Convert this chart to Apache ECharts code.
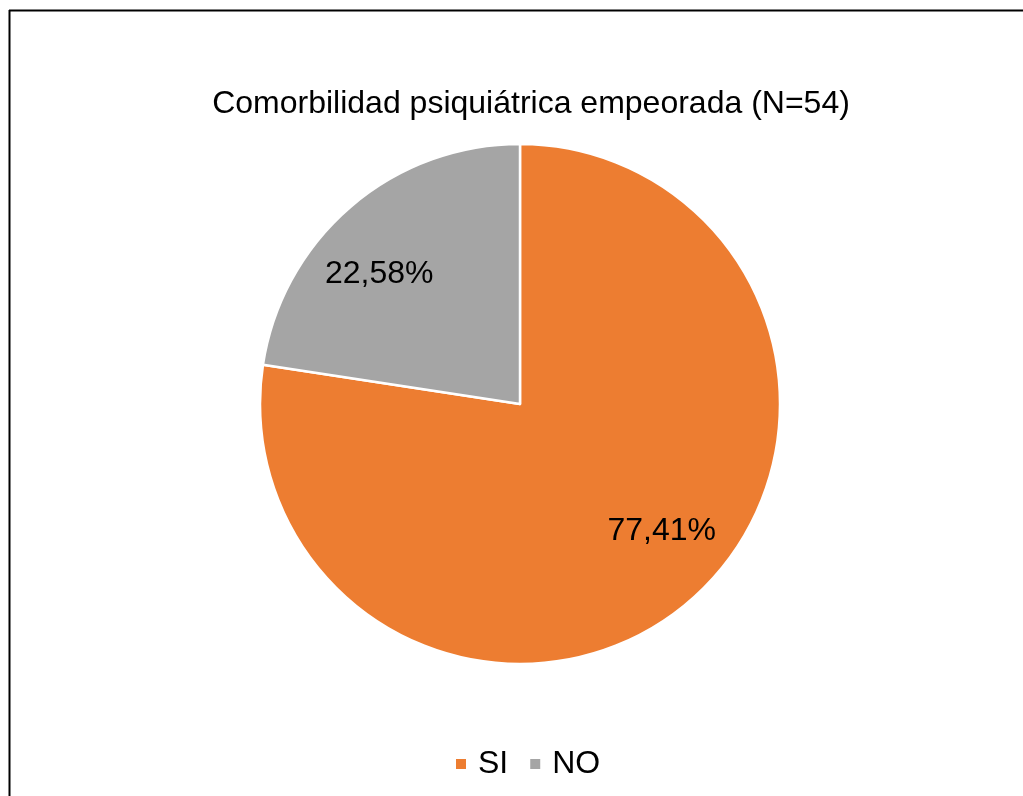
<!DOCTYPE html>
<html>
<head>
<meta charset="utf-8">
<script src="https://cdn.jsdelivr.net/npm/echarts@6/dist/echarts.min.js"></script>
<style>
html,body{margin:0;padding:0;background:#fff;}
#chart{width:1023px;height:796px;}
</style>
</head>
<body>
<div id="chart"></div>
<script>
const titleText = 'Comorbilidad psiquiátrica empeorada (N=54)';
const categories = ['SI', 'NO'];
const values = [77.41, 22.58];
const labels = ['77,41%', '22,58%'];
const colors = ['#ED7D31', '#A5A5A5'];
const labelOffsets = [[16, -19], [-15, 17]];

const font = '"Liberation Sans", Arial, sans-serif';
const baseData = categories.map((c, i) => ({ name: c, value: values[i] }));
const labelData = categories.map((c, i) => ({
  name: c, value: values[i],
  label: { offset: labelOffsets[i] }
}));

const chart = echarts.init(document.getElementById('chart'));
chart.setOption({
  animation: false,
  color: colors,
  title: {
    text: titleText,
    left: 526,
    textAlign: 'center',
    top: 83,
    textStyle: { fontFamily: font, fontSize: 32, fontWeight: 'normal', color: '#000' }
  },
  legend: {
    data: categories,
    left: 456,
    top: 748,
    padding: 0,
    icon: 'rect',
    itemWidth: 10,
    itemHeight: 10,
    itemGap: 22,
    itemStyle: { borderWidth: 0 },
    textStyle: { fontFamily: font, fontSize: 32, color: '#000', padding: [0, 0, 0, 7] }
  },
  graphic: [
    { type: 'line', shape: { x1: 9, y1: 10.5, x2: 1023, y2: 10.5 }, style: { stroke: '#000', lineWidth: 2 } },
    { type: 'line', shape: { x1: 9.5, y1: 10, x2: 9.5, y2: 796 }, style: { stroke: '#000', lineWidth: 2 } }
  ],
  series: [
    {
      type: 'pie',
      center: [520, 404],
      radius: [0, 260],
      startAngle: 90,
      clockwise: true,
      data: baseData,
      label: { show: false },
      labelLine: { show: false },
      itemStyle: { borderColor: '#fff', borderWidth: 2.5 },
      emphasis: { disabled: true }
    },
    {
      type: 'pie',
      center: [520, 404],
      radius: [120, 260],
      startAngle: 90,
      clockwise: true,
      data: labelData,
      silent: true,
      itemStyle: { color: 'rgba(0,0,0,0)' },
      label: {
        show: true,
        position: 'inside',
        formatter: p => labels[p.dataIndex],
        fontFamily: font, fontSize: 32, color: '#000'
      },
      labelLine: { show: false },
      emphasis: { disabled: true }
    }
  ]
});
</script>
</body>
</html>
